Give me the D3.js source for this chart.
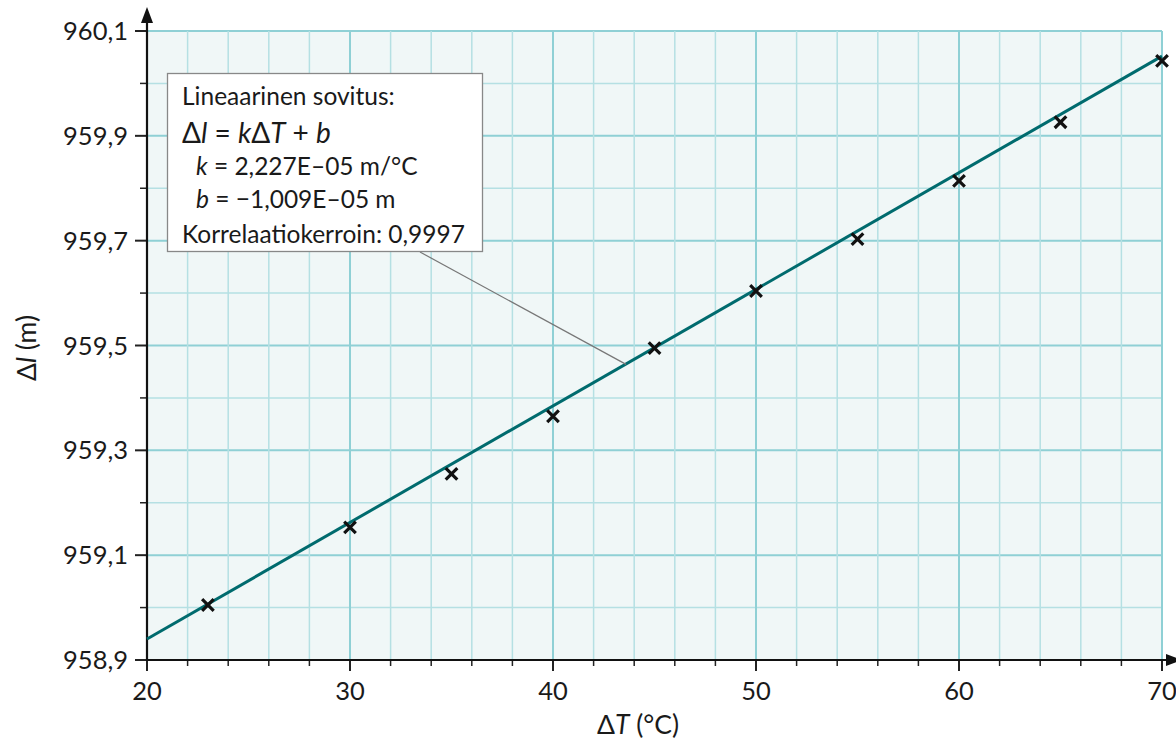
<!DOCTYPE html>
<html><head><meta charset="utf-8">
<script src="https://cdn.jsdelivr.net/npm/d3@7"></script>
<style>
html,body{margin:0;padding:0;background:#fff;}
svg{display:block;font-family:Lato,"Noto Sans",sans-serif;}
</style></head>
<body>
<svg id="c" width="1176" height="740"></svg>
<script>
// Data
const tempDiff = [23, 30, 35, 40, 45, 50, 55, 60, 65, 70];
const lengthVals = [959.005, 959.153, 959.255, 959.365, 959.495, 959.604, 959.703, 959.814, 959.926, 960.043];
const fitX = [20, 70];
const fitY = [958.94, 960.052];
const xTickLabels = [20, 30, 40, 50, 60, 70];
const yTickLabels = ["958,9", "959,1", "959,3", "959,5", "959,7", "959,9", "960,1"];
const boxLines = [
  [["Lineaarinen sovitus:", false]],
  [["Δ", false], ["l", true], [" = ", false], ["k", true], ["Δ", false], ["T", true], [" + ", false], ["b", true]],
  [["k", true], [" = 2,227E–05 m/°C", false]],
  [["b", true], [" = −1,009E–05 m", false]]
  ,[["Korrelaatiokerroin: 0,9997", false]]
];

const svg = d3.select("#c");
const x = d3.scaleLinear().domain([20, 70]).range([147, 1162]);
const y = d3.scaleLinear().domain([958.9, 960.1]).range([660, 31]);

// plot background
svg.append("rect").attr("x", x(20)).attr("y", y(960.1))
  .attr("width", x(70) - x(20)).attr("height", y(958.9) - y(960.1))
  .attr("fill", "#f0f7f7");

// grid
const xGrid = d3.range(22, 70.01, 2);
const yGrid = d3.range(0, 13).map(i => 958.9 + i * 0.1);
const g = svg.append("g");
yGrid.forEach((v, i) => {
  if (i === 0) return;
  const major = i % 2 === 0;
  g.append("line").attr("x1", x(20)).attr("x2", x(70)).attr("y1", y(v)).attr("y2", y(v))
    .attr("stroke", major ? "#8fd0d5" : "#b5e0e3").attr("stroke-width", major ? 2 : 1.5);
});
xGrid.forEach(v => {
  const major = Math.abs(v % 10) < 1e-6;
  g.append("line").attr("x1", x(v)).attr("x2", x(v)).attr("y1", y(958.9)).attr("y2", y(960.1))
    .attr("stroke", major ? "#8fd0d5" : "#b5e0e3").attr("stroke-width", major ? 2 : 1.5);
});

// axes (scale-driven, labels drawn separately)
const xAxis = d3.axisBottom(x).tickValues(d3.range(20, 70.01, 2)).tickSize(0).tickFormat("");
const yAxis = d3.axisLeft(y).tickValues(yGrid).tickSize(0).tickFormat("");
svg.append("g").attr("transform", `translate(0,${y(958.9)})`).call(xAxis).call(s => s.select(".domain").remove());
svg.append("g").attr("transform", `translate(${x(20)},0)`).call(yAxis).call(s => s.select(".domain").remove());

// tick marks
d3.range(20, 70.01, 2).forEach(v => {
  const major = Math.abs(v % 10) < 1e-6;
  svg.append("line").attr("x1", x(v)).attr("x2", x(v)).attr("y1", y(958.9)).attr("y2", y(958.9) + (major ? 11 : 6))
    .attr("stroke", "#222").attr("stroke-width", major ? 2 : 1.5);
});
yGrid.forEach((v, i) => {
  const major = i % 2 === 0;
  svg.append("line").attr("x1", x(20)).attr("x2", x(20) - (major ? 12 : 7)).attr("y1", y(v)).attr("y2", y(v))
    .attr("stroke", "#222").attr("stroke-width", major ? 2 : 1.5);
});

// axis lines with arrows
svg.append("line").attr("x1", x(20)).attr("x2", 1172).attr("y1", y(958.9)).attr("y2", y(958.9))
  .attr("stroke", "#111").attr("stroke-width", 2.2);
svg.append("path").attr("d", `M1166,${y(958.9) - 6}L1182,${y(958.9)}L1166,${y(958.9) + 6}Z`).attr("fill", "#111");
svg.append("line").attr("x1", x(20)).attr("x2", x(20)).attr("y1", y(958.9) + 1).attr("y2", 16)
  .attr("stroke", "#111").attr("stroke-width", 2.2);
svg.append("path").attr("d", `M${x(20) - 6},23L${x(20)},7L${x(20) + 6},23Z`).attr("fill", "#111");

// tick labels
xTickLabels.forEach(v => {
  svg.append("text").attr("x", x(v)).attr("y", y(958.9) + 40).attr("text-anchor", "middle")
    .attr("font-size", 25.5).attr("fill", "#1a1a1a").text(v);
});
yTickLabels.forEach((t, i) => {
  svg.append("text").attr("x", x(20) - 19).attr("y", y(958.9 + i * 0.2) + 9).attr("text-anchor", "end")
    .attr("font-size", 25.5).attr("fill", "#1a1a1a").text(t);
});

// axis titles
const xt = svg.append("text").attr("x", 638).attr("y", 734).attr("text-anchor", "middle")
  .attr("font-size", 26.5).attr("fill", "#1a1a1a");
xt.append("tspan").text("Δ");
xt.append("tspan").attr("font-style", "italic").text("T");
xt.append("tspan").text(" (°C)");
const yt = svg.append("text").attr("transform", "translate(36,348) rotate(-90)").attr("text-anchor", "middle")
  .attr("font-size", 26.5).attr("fill", "#1a1a1a");
yt.append("tspan").text("Δ");
yt.append("tspan").attr("font-style", "italic").text("l");
yt.append("tspan").text(" (m)");

// fit line
const line = d3.line().x(d => x(d[0])).y(d => y(d[1]));
svg.append("path").datum(fitX.map((v, i) => [v, fitY[i]])).attr("d", line)
  .attr("fill", "none").attr("stroke", "#006b6e").attr("stroke-width", 3);

// points
const s = 5.8;
tempDiff.forEach((v, i) => {
  const px = x(v), py = y(lengthVals[i]);
  svg.append("path").attr("d", `M${px - s},${py - s}L${px + s},${py + s}M${px - s},${py + s}L${px + s},${py - s}`)
    .attr("stroke", "#111").attr("stroke-width", 3.2).attr("fill", "none");
});

// callout leader
svg.append("line").attr("x1", 420).attr("y1", 252).attr("x2", x(43.6)).attr("y2", y(959.464))
  .attr("stroke", "#777").attr("stroke-width", 1.2);

// callout box
svg.append("rect").attr("x", 167.5).attr("y", 73.5).attr("width", 315).attr("height", 178)
  .attr("fill", "#fff").attr("stroke", "#888").attr("stroke-width", 1.3);
const baselines = [105, 143, 175, 208, 243];
const indents = [182, 182, 196, 196, 182];
boxLines.forEach((parts, i) => {
  const t = svg.append("text").attr("x", indents[i]).attr("y", baselines[i])
    .attr("font-size", i === 1 ? 28 : 24.5).attr("fill", "#1a1a1a");
  parts.forEach(p => t.append("tspan").attr("font-style", p[1] ? "italic" : null).text(p[0]));
});
</script>
</body></html>
